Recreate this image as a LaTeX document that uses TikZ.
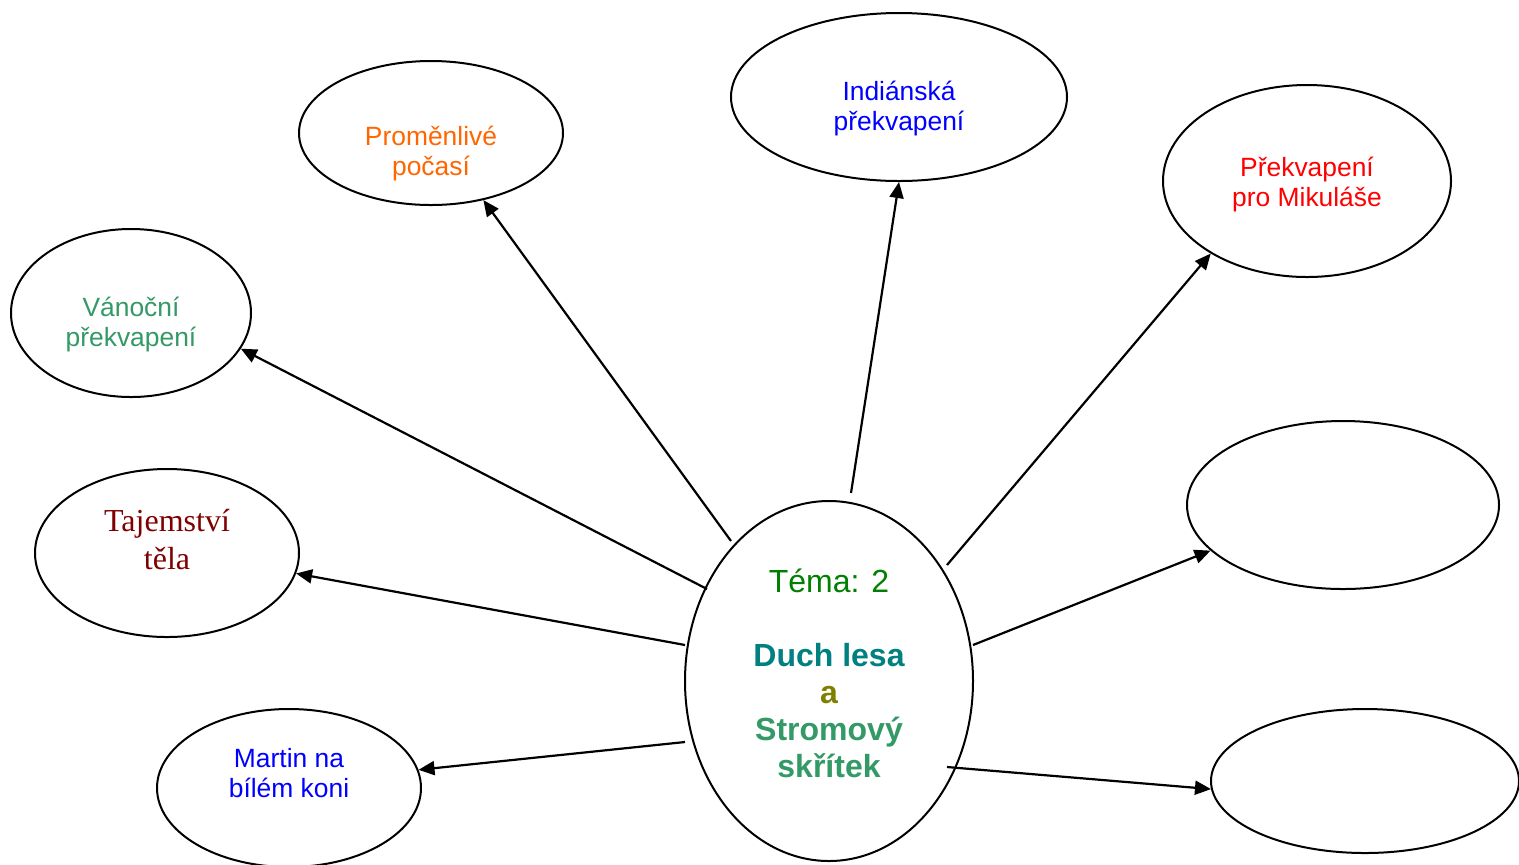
\documentclass[tikz,border=0pt]{standalone}
\usepackage{fontspec}
\setmainfont{Liberation Sans}
\newfontfamily\serifnode{Liberation Serif}
\usetikzlibrary{shapes.geometric,arrows.meta}
\definecolor{cOrange}{RGB}{255,102,0}
\definecolor{cBlue}{RGB}{0,0,255}
\definecolor{cRed}{RGB}{255,0,0}
\definecolor{cSea}{RGB}{51,153,102}
\definecolor{cMaroon}{RGB}{128,0,0}
\definecolor{cGreen}{RGB}{0,128,0}
\definecolor{cTeal}{RGB}{0,128,128}
\definecolor{cOlive}{RGB}{128,128,0}
\tikzset{
  bubble/.style={ellipse,draw=black,line width=1pt,inner sep=0pt},
  smalltxt/.style={align=center,font=\fontsize{13.2}{15}\selectfont,inner sep=0pt},
  arr/.style={line width=1.1pt,-{Triangle[length=8pt,width=7pt]}}
}
\begin{document}
\begin{tikzpicture}[x=0.5pt,y=-0.5pt]
\clip (0,0) rectangle (1519,864);
\fill[white] (0,0) rectangle (1519,864);
% ellipses
\node[bubble,minimum width=132pt,minimum height=72pt] (prom) at (431,133) {};
\node[bubble,minimum width=168pt,minimum height=84pt] (ind) at (899,97) {};
\node[bubble,minimum width=144pt,minimum height=96pt] (mik) at (1307,181) {};
\node[bubble,minimum width=120pt,minimum height=84pt] (van) at (131,313) {};
\node[bubble,minimum width=132pt,minimum height=84pt] (taj) at (167,553) {};
\node[bubble,minimum width=132pt,minimum height=79pt] (mar) at (289,788) {};
\node[bubble,minimum width=156pt,minimum height=84pt] (ra) at (1343,505) {};
\node[bubble,minimum width=154pt,minimum height=72pt] (rb) at (1365,781) {};
\node[bubble,minimum width=144pt,minimum height=180pt] (cen) at (829,681) {};
% texts
\node[smalltxt,text=cOrange] (promt) at (431,154) {Proměnlivé\\počasí};
\node[smalltxt,text=cBlue] (indt) at (899,109) {Indiánská\\překvapení};
\node[smalltxt,text=cRed] (mikt) at (1307,185) {Překvapení\\pro Mikuláše};
\node[smalltxt,text=cSea] (vant) at (131,325) {Vánoční\\překvapení};
\node[align=center,inner sep=0pt,text=cMaroon,font=\serifnode\fontsize{16}{19}\selectfont] (tajt) at (167,540) {Tajemství\\těla};
\node[smalltxt,text=cBlue] (mart) at (289,773) {Martin na\\bílém koni};
\node[align=center,inner sep=0pt,font=\fontsize{16}{18.5}\selectfont] (cent) at (829,673)
  {\textcolor{cGreen}{Téma: 2}\\[18.5pt]
   \textcolor{cTeal}{\bfseries Duch lesa}\\
   \textcolor{cOlive}{\bfseries a}\\
   \textcolor{cSea}{\bfseries Stromový}\\
   \textcolor{cSea}{\bfseries skřítek}};
% start points of connectors
\coordinate (s1) at (731,541);
\coordinate (s2) at (851,493);
\coordinate (s3) at (947,565);
\coordinate (s4) at (707,589);
\coordinate (s5) at (685,645);
\coordinate (s6) at (685,742);
\coordinate (s7) at (973,645);
\coordinate (s8) at (947,767);
% connectors
\draw[arr] (s1) -- (prom.-52);
\draw[arr] (s2) -- (ind.-90);
\draw[arr] (s3) -- (mik.217.6);
\draw[arr] (s4) -- (van.-18);
\draw[arr] (s5) -- (taj.-9);
\draw[arr] (s6) -- (mar.8);
\draw[arr] (s7) -- (ra.199.2);
\draw[arr] (s8) -- (rb.183.7);
\end{tikzpicture}
\end{document}
